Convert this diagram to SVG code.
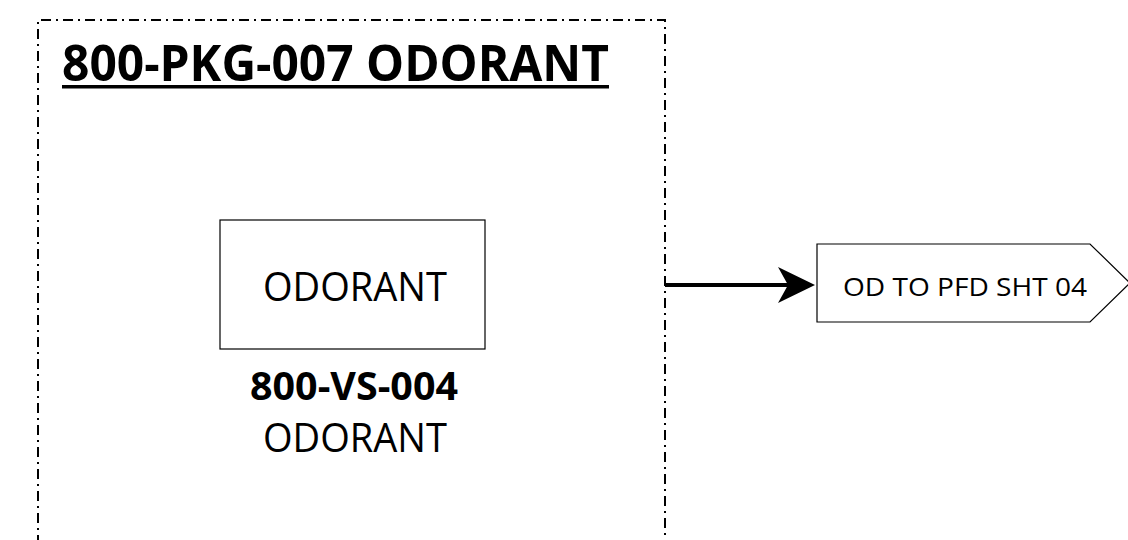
<svg xmlns="http://www.w3.org/2000/svg" width="1128" height="540" viewBox="0 0 1128 540">
<style>
.t{font-family:"Open Sans","Liberation Sans",sans-serif;fill:#000}
.b{font-weight:bold}
.frame{fill:none;stroke:#000;stroke-width:2;stroke-dasharray:10 5 2 5}
.box{fill:#fff;stroke:#000;stroke-width:1.2}
</style>
<defs>
<marker id="ah" markerWidth="10" markerHeight="10" refX="10" refY="5" orient="auto" markerUnits="userSpaceOnUse" viewBox="0 0 10 10">
<path d="M0,0 L10,5 L0,10 L2,5 Z" fill="#000"/>
</marker>
</defs>
<rect width="1128" height="540" fill="#fff"/>
<g id="package">
<path class="frame" d="M38,545 L38,20 L665,20 L665,545"/>
<text class="t b" x="62" y="81" font-size="50" textLength="547" lengthAdjust="spacingAndGlyphs">800-PKG-007 ODORANT</text>
<rect x="62" y="85" width="547" height="3.5" fill="#000"/>
</g>
<g id="vessel">
<rect class="box" x="220" y="220" width="265" height="129"/>
<text class="t" x="263" y="301" font-size="40" textLength="184" lengthAdjust="spacingAndGlyphs">ODORANT</text>
<text class="t b" x="250" y="400" font-size="39" textLength="208" lengthAdjust="spacingAndGlyphs">800-VS-004</text>
<text class="t" x="263" y="452" font-size="40" textLength="184" lengthAdjust="spacingAndGlyphs">ODORANT</text>
</g>
<g id="connectors">
<path d="M665,285 L790,285" stroke="#000" stroke-width="4" fill="none"/>
<path d="M815,285 L778,267 L788,285 L778,303 Z" fill="#000"/>
</g>
<g id="offpage">
<path class="box" d="M817,244 L1090,244 L1130,283 L1090,322 L817,322 Z"/>
<text class="t" x="843" y="296" font-size="26" textLength="244" lengthAdjust="spacingAndGlyphs">OD TO PFD SHT 04</text>
</g>
</svg>
